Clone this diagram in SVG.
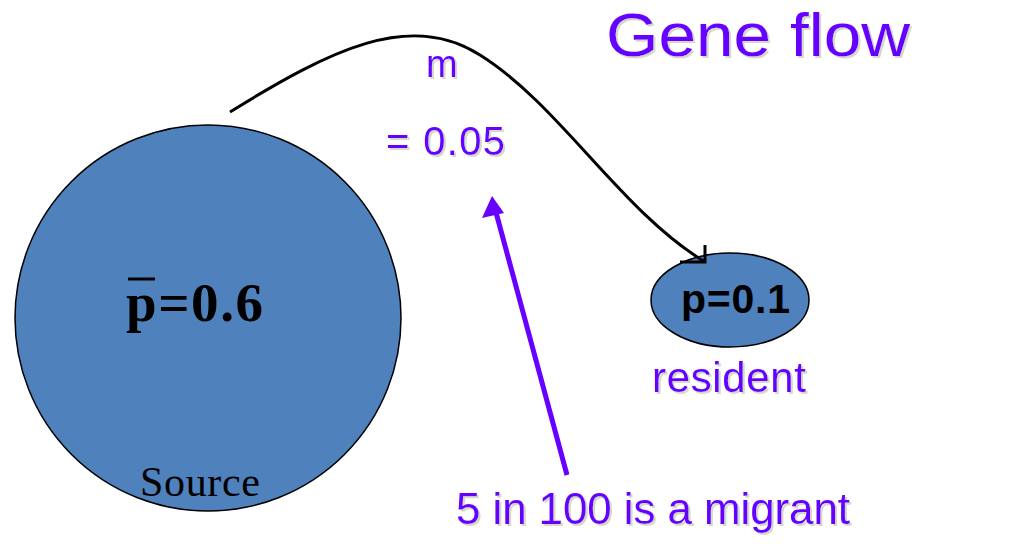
<svg xmlns="http://www.w3.org/2000/svg" width="1033" height="557" viewBox="0 0 1033 557">
<style>
.pt{font-family:"Liberation Sans",Arial,sans-serif;fill:#6600ff;filter:url(#sh)}
.blob{fill:#4f81bd;stroke:#000;stroke-width:1.5}
</style>
<defs>
<filter id="sh" x="-10%" y="-10%" width="130%" height="130%"><feDropShadow dx="2" dy="2" stdDeviation="0.3" flood-color="#d8d8c8"/></filter>
</defs>
<rect width="1033" height="557" fill="#fff"/>
<g id="title"><text class="pt" x="606" y="56" font-size="62" textLength="304" lengthAdjust="spacingAndGlyphs">Gene flow</text></g>
<g id="source">
<circle class="blob" cx="208" cy="318" r="193"/>
<line x1="128" y1="279" x2="155" y2="279" stroke="#000" stroke-width="3"/>
<text x="126" y="321" font-family="Liberation Serif,serif" font-weight="bold" font-size="55" textLength="137">p=0.6</text>
<text x="140" y="496" font-family="Liberation Serif,serif" font-size="42" textLength="120">Source</text>
</g>
<g id="resident">
<ellipse class="blob" cx="730" cy="300" rx="79" ry="47"/>
<text x="681" y="313" font-family="Liberation Sans,Arial,sans-serif" font-weight="bold" font-size="41" textLength="109">p=0.1</text>
<text class="pt" x="652" y="392" font-size="42" textLength="154">resident</text>
</g>
<g id="labels">
<text class="pt" x="426" y="77" font-size="38">m</text>
<text class="pt" x="386" y="155" font-size="40" textLength="119">= 0.05</text>
<text class="pt" x="456" y="524" font-size="44" textLength="394">5 in 100 is a migrant</text>
</g>
<g id="connectors" fill="none">
<path d="M230,112 C330,50 410,10 480,55 C560,105 620,210 705,262" stroke="#000" stroke-width="3"/>
<path d="M680,262 L705,262 L705,245" stroke="#000" stroke-width="3"/>
<line x1="567" y1="475" x2="494" y2="205" stroke="#6600ff" stroke-width="5"/>
<path d="M492,196 L482,218 L504,213 z" fill="#6600ff"/>
</g>
</svg>
